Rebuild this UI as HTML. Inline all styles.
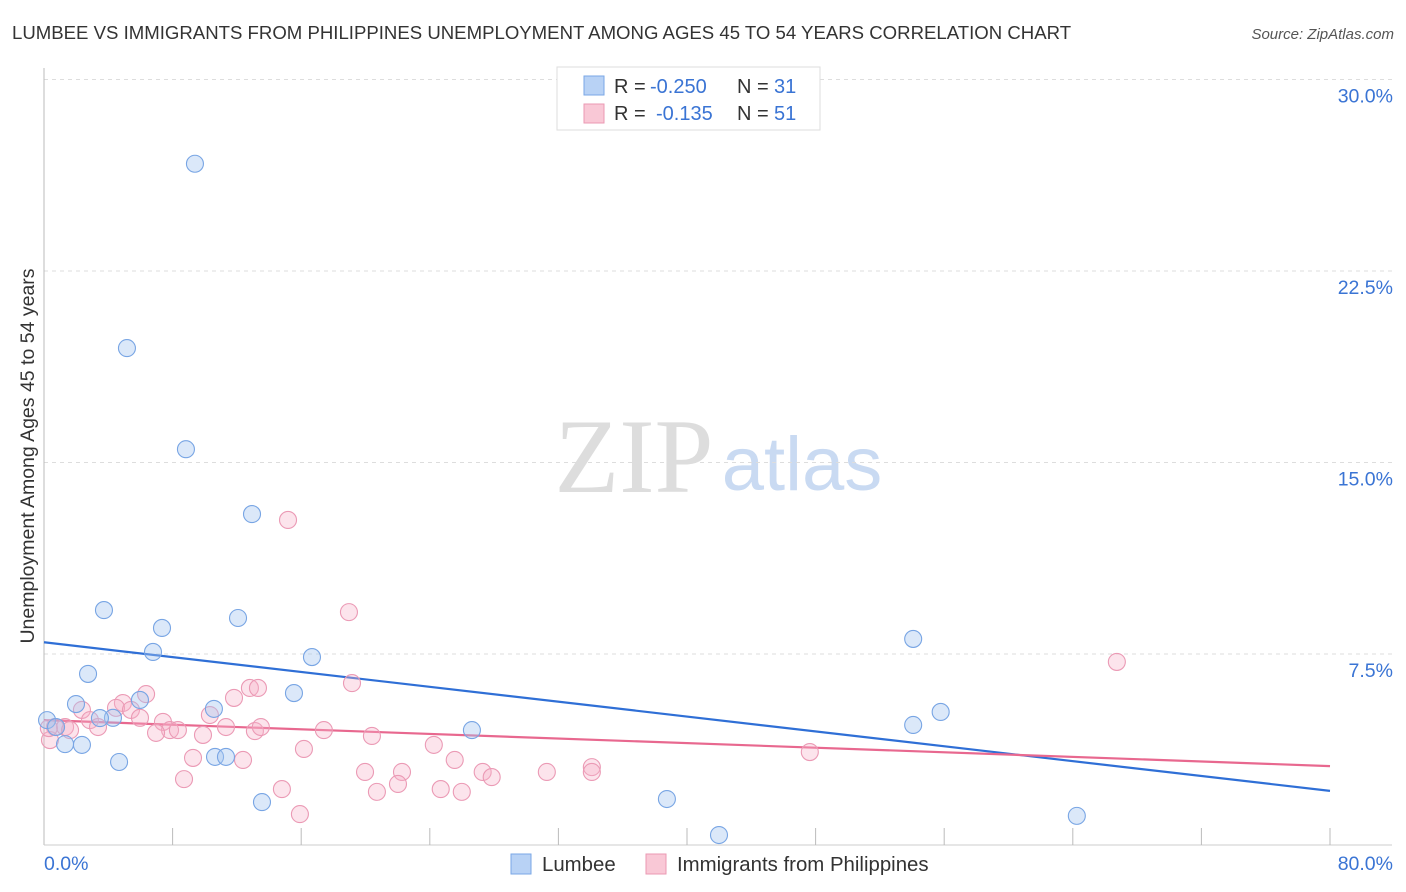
<!DOCTYPE html>
<html><head><meta charset="utf-8"><style>
body{margin:0;background:#fff;font-family:"Liberation Sans",sans-serif;}
svg{display:block}
</style></head><body>
<svg id="chart" width="1406" height="892">
<text x="12" y="39" font-size="18.6" fill="#333">LUMBEE VS IMMIGRANTS FROM PHILIPPINES UNEMPLOYMENT AMONG AGES 45 TO 54 YEARS CORRELATION CHART</text>
<text x="1394" y="39" font-size="15" fill="#555" font-style="italic" text-anchor="end">Source: ZipAtlas.com</text>
<text x="634" y="492" font-size="106" fill="#ddd" font-family="Liberation Serif,serif" text-anchor="middle">ZIP</text>
<text x="802" y="490" font-size="76" fill="#c9daf2" text-anchor="middle">atlas</text>
<text transform="translate(34,456) rotate(-90)" font-size="19.5" fill="#333" text-anchor="middle">Unemployment Among Ages 45 to 54 years</text>
<g id="grid"></g><g id="axes"></g><g id="trends"></g><g id="pts"></g>
<g>
<rect x="557" y="67" width="263" height="63" fill="#fff" stroke="#ddd"/>
<rect x="584" y="76" width="20" height="19" fill="#b8d2f5" stroke="#7aa7e6"/>
<rect x="584" y="104" width="20" height="19" fill="#f9c8d6" stroke="#eb99b3"/>
<text x="614" y="93" font-size="20" fill="#333">R =</text>
<text x="650" y="93" font-size="20" fill="#3a74d4">-0.250</text>
<text x="737" y="93" font-size="20" fill="#333">N =</text>
<text x="774" y="93" font-size="20" fill="#3a74d4">31</text>
<text x="614" y="120" font-size="20" fill="#333">R =</text>
<text x="656" y="120" font-size="20" fill="#3a74d4">-0.135</text>
<text x="737" y="120" font-size="20" fill="#333">N =</text>
<text x="774" y="120" font-size="20" fill="#3a74d4">51</text>
</g>
<g>
<rect x="511" y="854" width="20" height="20" fill="#b8d2f5" stroke="#7aa7e6"/>
<text x="542" y="871" font-size="20.4" fill="#333">Lumbee</text>
<rect x="646" y="854" width="20" height="20" fill="#f9c8d6" stroke="#eb99b3"/>
<text x="677" y="871" font-size="20.4" fill="#333">Immigrants from Philippines</text>
</g>
</svg>
<script>
const yTicks=[7.5,15,22.5,30];
const yTickLabels=["7.5%","15.0%","22.5%","30.0%"];
const xTicks=[8,16,24,32,40,48,56,64,72,80];
const xEndLabels=["0.0%","80.0%"];
const lumbeeX=[9.39,5.16,8.83,12.94,3.73,12.07,7.34,6.78,16.67,2.74,15.55,1.99,5.97,10.57,4.29,0.19,0.75,1.31,2.36,4.67,10.64,11.32,13.56,26.62,38.75,41.99,54.07,54.07,55.78,64.25,3.48];
const lumbeeY=[26.7,19.48,15.52,12.98,9.22,8.91,8.52,7.58,7.38,6.72,5.97,5.54,5.7,5.35,5.0,4.91,4.64,3.97,3.94,3.27,3.47,3.47,1.7,4.52,1.82,0.41,8.09,4.72,5.23,1.16,4.99];
const philX=[15.18,18.97,66.74,19.16,6.35,12.81,13.31,11.82,4.91,2.36,4.48,5.41,5.97,10.32,0.68,1.31,1.62,2.86,3.36,7.4,7.84,8.33,6.97,9.89,11.32,13.12,13.49,17.41,20.4,16.17,24.25,0.37,9.27,12.38,25.55,47.64,19.97,22.27,22.02,8.71,14.8,20.71,24.68,25.99,27.29,27.85,31.28,34.08,34.08,15.92,0.3];
const philY=[12.75,9.14,7.19,6.36,5.93,6.17,6.17,5.78,5.58,5.31,5.39,5.31,5.0,5.11,4.64,4.64,4.52,4.91,4.64,4.84,4.52,4.52,4.41,4.33,4.64,4.48,4.64,4.52,4.29,3.78,3.94,4.13,3.43,3.35,3.35,3.66,2.88,2.88,2.41,2.6,2.21,2.1,2.21,2.1,2.88,2.68,2.88,3.07,2.88,1.23,4.6];
const lumbeeTrend=[7.96,2.14];
const philTrend=[4.91,3.11];
const NS="http://www.w3.org/2000/svg";
const X0=44,X1=1330,Y0=845.5,Y30=79.5;
const sx=v=>X0+v/80*(X1-X0);
const sy=v=>Y0-v/30*(Y0-Y30);
function mk(tag,attrs,parent){const e=document.createElementNS(NS,tag);for(const k in attrs)e.setAttribute(k,attrs[k]);document.getElementById(parent).appendChild(e);return e;}
yTicks.forEach((t,i)=>{
 const l=mk('line',{x1:44,x2:1392,y1:sy(t),y2:sy(t),stroke:'#ddd','stroke-dasharray':'4,4'},'grid');
 
 
 const tx=mk('text',{x:1393,y:sy(t)+23,'font-size':19.5,fill:'#3a74d4','text-anchor':'end'},'grid');
 tx.textContent=yTickLabels[i];
 
 
});
const ax=mk('line',{x1:44,x2:44,y1:68,y2:845,stroke:'#bbb'},'axes');


const bx=mk('line',{x1:44,x2:1392,y1:845,y2:845,stroke:'#ccc'},'axes');


xTicks.forEach(t=>{
 const l=mk('line',{x1:sx(t),x2:sx(t),y1:828,y2:845,stroke:'#bbb'},'axes');
 
 
});
[[0,'start',44],[80,'end',1393]].forEach((d,i)=>{
 const tx=mk('text',{x:d[2],y:870,'font-size':19.5,fill:'#3a74d4','text-anchor':d[1]},'axes');
 tx.textContent=xEndLabels[i];
 
 
});
function dots(xs,ys,fill,stroke,name){
 xs.forEach((x,i)=>{
  const c=mk('circle',{cx:sx(x),cy:sy(ys[i]),r:8.5,fill:fill,stroke:stroke,'stroke-width':1.1},'pts');
  
  
 });
}
dots(philX,philY,'rgba(246,178,200,0.35)','#eb9ab5','point-philippines');
dots(lumbeeX,lumbeeY,'rgba(165,198,240,0.4)','#78a5e4','point-lumbee');
const t1=mk('line',{x1:sx(0),y1:sy(lumbeeTrend[0]),x2:sx(80),y2:sy(lumbeeTrend[1]),stroke:'#2f6fd6','stroke-width':2.2},'trends');


const t2=mk('line',{x1:sx(0),y1:sy(philTrend[0]),x2:sx(80),y2:sy(philTrend[1]),stroke:'#e8688f','stroke-width':2.2},'trends');


</script>
</body></html>
